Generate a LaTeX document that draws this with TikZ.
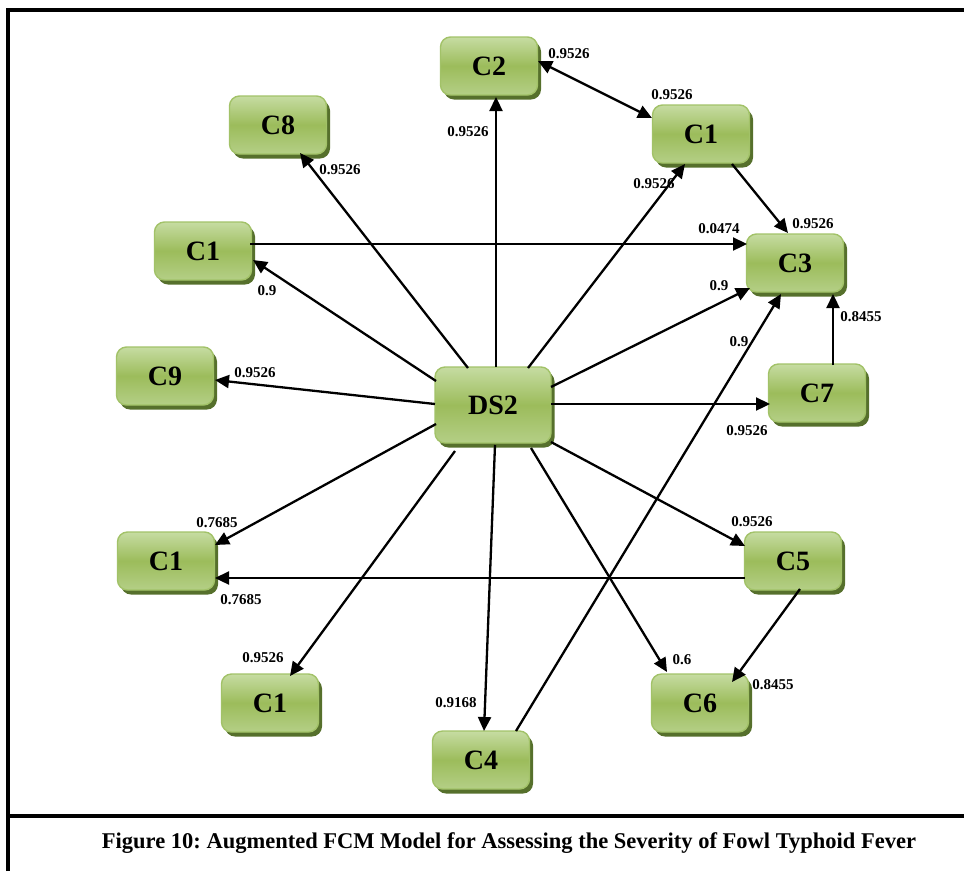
\documentclass[tikz,border=0pt]{standalone}
\usepackage{fontspec}
\setmainfont{Liberation Serif}
\usetikzlibrary{arrows.meta,calc,shadows}
\frenchspacing

\definecolor{boxtop}{HTML}{C6DCA2}
\definecolor{boxmid}{HTML}{9CBC5B}
\definecolor{boxbot}{HTML}{B4CF86}
\definecolor{boxedge}{HTML}{A2C268}
\definecolor{boxshade}{HTML}{56702C}

\tikzset{
  concept/.style={draw=boxedge, line width=1.4pt, rounded corners=10pt,
    top color=boxtop, bottom color=boxbot, middle color=boxmid,
    minimum width=97pt, minimum height=58pt, inner sep=0pt,
    font=\fontsize{28}{30}\selectfont\bfseries,
    drop shadow={shadow xshift=3.5pt, shadow yshift=-4.5pt, fill=boxshade, opacity=1}},
  hub/.style={concept, minimum width=116pt, minimum height=76pt},
  link/.style={line width=2.3pt, -{Triangle[length=14pt,width=13pt]}},
  both/.style={line width=2.3pt, {Triangle[length=14pt,width=13pt]}-{Triangle[length=14pt,width=13pt]}},
  weight/.style={font=\fontsize{15}{16}\selectfont\bfseries, inner sep=0pt},
  frame/.style={line width=4pt}
}

\begin{document}
\begin{tikzpicture}[x=1pt, y=-1pt]
\useasboundingbox (0,0) rectangle (964,871);

% outer frame and caption divider
\draw[frame] (7.5,871) -- (7.5,9.5) -- (964,9.5);
\draw[frame] (7.5,815.5) -- (964,815.5);
\node[font=\fontsize{22.5}{25}\selectfont\bfseries] (caption) at (509,843)
  {Figure 10: Augmented FCM Model for Assessing the Severity of Fowl Typhoid Fever};

% concepts
\node[concept] (c2)  at (489,66)  {C2};
\node[concept] (c8)  at (278,125) {C8};
\node[concept] (c1a) at (701,134) {C1};
\node[concept] (c1b) at (203,251) {C1};
\node[concept] (c3)  at (795,263) {C3};
\node[concept] (c9)  at (165,376) {C9};
\node[concept] (c7)  at (817,393) {C7};
\node[concept] (c1c) at (166,561) {C1};
\node[concept] (c5)  at (793,561) {C5};
\node[concept] (c1d) at (270,703) {C1};
\node[concept] (c6)  at (700,703) {C6};
\node[concept] (c4)  at (481,760) {C4};
\node[hub]     (ds)  at (493,405) {DS2};

% causal links
\draw[link] ($(ds)+(3,-38)$)   -- ($(c2)+(7,31)$);
\draw[both] ($(c2)+(49,-5)$)   -- ($(c1a)+(-49,-16)$);
\draw[link] ($(ds)+(35,-37)$)  -- ($(c1a)+(-16,30)$);
\draw[link] ($(c1a)+(31,30)$)  -- ($(c3)+(-7,-30)$);
\draw[link] ($(c1b)+(47,-7)$)  -- ($(c3)+(-48,-19)$);
\draw[link] ($(ds)+(58,-18)$)  -- ($(c3)+(-45,25)$);
\draw[link] ($(c4)+(35,-29)$)  -- ($(c3)+(-14,31)$);
\draw[link] ($(c7)+(16,-28)$)  -- ($(c3)+(38,31)$);
\draw[link] ($(ds)+(58,-1)$)   -- ($(c7)+(-47,11)$);
\draw[link] ($(ds)+(-25,-37)$) -- ($(c8)+(22,28)$);
\draw[link] ($(ds)+(-57,-24)$) -- ($(c1b)+(50,9)$);
\draw[link] ($(ds)+(-58,-1)$)  -- ($(c9)+(50,4)$);
\draw[link] ($(ds)+(-57,19)$)  -- ($(c1c)+(49,-16)$);
\draw[link] ($(c5)+(-48,17)$)  -- ($(c1c)+(49,17)$);
\draw[link] ($(ds)+(58,37)$)   -- ($(c5)+(-48,-15)$);
\draw[link] ($(ds)+(38,43)$)   -- ($(c6)+(-33,-31)$);
\draw[link] ($(c5)+(7,28)$)    -- ($(c6)+(32,-21)$);
\draw[link] ($(ds)+(2,40)$)    -- ($(c4)+(3,-29)$);
\draw[link] ($(ds)+(-38,46)$)  -- ($(c1d)+(20,-27)$);

% weights
\node[weight] (w1)  at (468,132) {0.9526};
\node[weight] (w2)  at (569,54)  {0.9526};
\node[weight] (w3)  at (672,95)  {0.9526};
\node[weight] (w4)  at (654,184) {0.9526};
\node[weight] (w5)  at (813,224) {0.9526};
\node[weight] (w6)  at (719,229) {0.0474};
\node[weight] (w7)  at (719,286) {0.9};
\node[weight] (w8)  at (861,317) {0.8455};
\node[weight] (w9)  at (739,342) {0.9};
\node[weight] (w10) at (747,431) {0.9526};
\node[weight] (w11) at (340,170) {0.9526};
\node[weight] (w12) at (267,291) {0.9};
\node[weight] (w13) at (255,373) {0.9526};
\node[weight] (w14) at (217,523) {0.7685};
\node[weight] (w15) at (241,600) {0.7685};
\node[weight] (w16) at (752,522) {0.9526};
\node[weight] (w17) at (682,660) {0.6};
\node[weight] (w18) at (773,685) {0.8455};
\node[weight] (w19) at (456,703) {0.9168};
\node[weight] (w20) at (263,658) {0.9526};
\end{tikzpicture}
\end{document}
